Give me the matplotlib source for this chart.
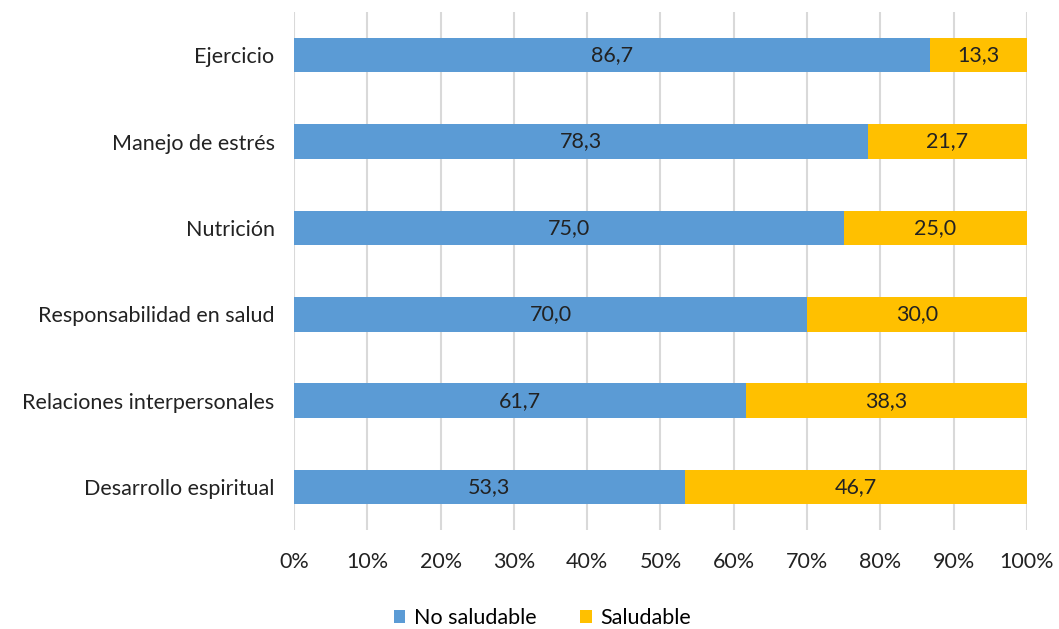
import matplotlib
matplotlib.use("Agg")
import matplotlib.pyplot as plt
import numpy as np

plt.rcParams['font.family'] = ['Lato', 'DejaVu Sans']

categories = ["Ejercicio", "Manejo de estrés", "Nutrición", "Responsabilidad en salud",
              "Relaciones interpersonales", "Desarrollo espiritual"]
no_saludable = [86.7, 78.3, 75.0, 70.0, 61.7, 53.3]
saludable = [13.3, 21.7, 25.0, 30.0, 38.3, 46.7]
series_names = ["No saludable", "Saludable"]
xticks = list(range(0, 101, 10))
xtick_labels = [f"{t}%" for t in xticks]

fig = plt.figure(figsize=(10.59, 6.29), dpi=100)
ax = fig.add_axes([0.2776, 0.157, 0.6922, 0.824])

y = np.arange(len(categories))
h = 0.4
fs = 15.5
b1 = ax.barh(y, no_saludable, height=h, color="#5B9BD5", label=series_names[0], zorder=3)
b2 = ax.barh(y, saludable, left=no_saludable, height=h, color="#FFC000", label=series_names[1], zorder=3)

for i in range(len(categories)):
    ax.text(no_saludable[i] / 2, y[i], f"{no_saludable[i]:.1f}".replace(".", ","),
            ha="center", va="center", fontsize=fs, color="#222222", zorder=4)
    ax.text(no_saludable[i] + saludable[i] / 2, y[i], f"{saludable[i]:.1f}".replace(".", ","),
            ha="center", va="center", fontsize=fs, color="#222222", zorder=4)

ax.set_xlim(0, 100)
ax.set_ylim(len(categories) - 0.5, -0.5)
ax.set_yticks(y)
ax.set_yticklabels(categories, fontsize=fs, color="#222222")
ax.set_xticks(xticks)
ax.set_xticklabels(xtick_labels, fontsize=fs, color="#222222")
ax.tick_params(axis="both", length=0)
ax.tick_params(axis="x", pad=16)
ax.tick_params(axis="y", pad=14)
for s in ax.spines.values():
    s.set_visible(False)
ax.grid(axis="x", color="#D9D9D9", linewidth=1.5, zorder=0)

fig.legend(handles=[b1, b2], labels=series_names, loc="center", bbox_to_anchor=(0.512, 0.018),
           ncol=2, frameon=False, fontsize=fs, handlelength=0.55, handleheight=0.55,
           handletextpad=0.4, columnspacing=2.0)

fig.savefig("out.png", dpi=100)
